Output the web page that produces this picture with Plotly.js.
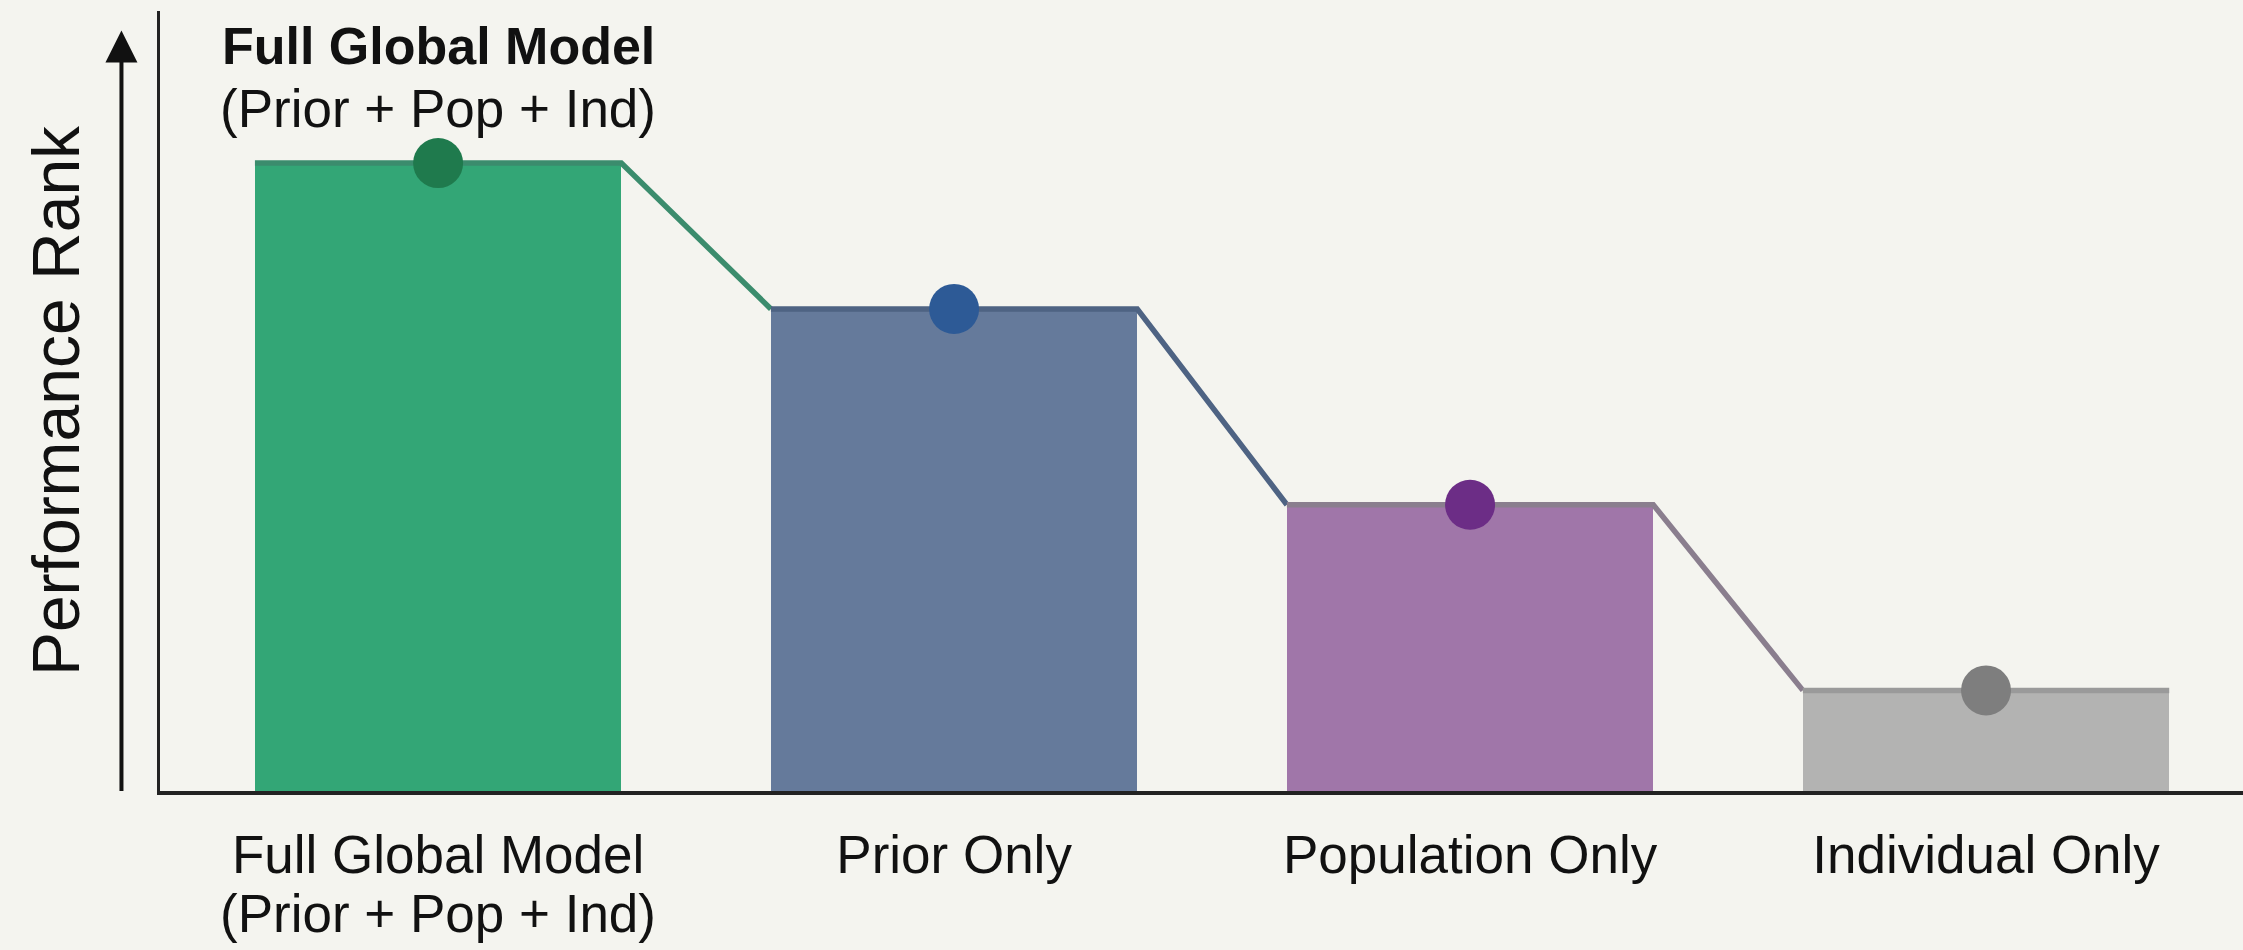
<!DOCTYPE html>
<html>
<head>
<meta charset="utf-8">
<script src="https://cdn.plot.ly/plotly-3.0.1.min.js"></script>
<style>
html,body{margin:0;padding:0;background:#f4f4ef;}
#chart{width:2243px;height:950px;}
</style>
</head>
<body>
<div id="chart"></div>
<script>
// ---- data ----
const categories = ["Full Global Model", "Prior Only", "Population Only", "Individual Only"];
const subLabels = ["(Prior + Pop + Ind)", "", "", ""];
const performance = [80.5, 61.8, 36.7, 12.9];
const barColors = ["#33a676", "#657a9b", "#a076a9", "#b3b3b2"];
const dotColors = ["#1f7a4d", "#2d5a96", "#6c2d86", "#7e7e7e"];
const edgeColors = ["#3b8c6d", "#4e6383", "#8a7e8e", "#9a9a9a"];
const highlightTitle = "Full Global Model";
const highlightSub = "(Prior + Pop + Ind)";
const yTitle = "Performance Rank";

const positions = categories.map((c, i) => i);
const W = 0.71;
const FONT = "'Liberation Sans', Arial, sans-serif";
const LABEL_SIZE = 53;

const traces = [];
traces.push({
  type: "bar", x: positions, y: performance, width: W,
  marker: {color: barColors, line: {width: 0}},
  hoverinfo: "skip", showlegend: false
});
// connectors: top edge of each bar plus slope to next bar
positions.forEach((p, i) => {
  const xs = [p - W / 2, p + W / 2];
  const ys = [performance[i], performance[i]];
  if (i < positions.length - 1) {
    xs.push(positions[i + 1] - W / 2);
    ys.push(performance[i + 1]);
  }
  traces.push({
    type: "scatter", mode: "lines", x: xs, y: ys,
    line: {color: edgeColors[i], width: 5.5},
    hoverinfo: "skip", showlegend: false
  });
});
traces.push({
  type: "scatter", mode: "markers", x: positions, y: performance,
  marker: {size: 50, color: dotColors},
  hoverinfo: "skip", showlegend: false
});

const annotations = [
  {
    x: 0, y: 91.5, xref: "x", yref: "y", showarrow: false,
    text: "<b>" + highlightTitle + "</b>", font: {family: FONT, size: 52, color: "#111"},
    xanchor: "center", yanchor: "bottom", yshift: 0
  },
  {
    x: 0, y: 91.5, xref: "x", yref: "y", showarrow: false,
    text: highlightSub, font: {family: FONT, size: LABEL_SIZE, color: "#111"},
    xanchor: "center", yanchor: "top", yshift: 0
  },
  // arrow beside the y axis
  {
    x: -0.0185, y: 0.975, xref: "paper", yref: "paper",
    ax: -0.0185, ay: -0.002, axref: "paper", ayref: "paper",
    showarrow: true, arrowhead: 2, arrowsize: 1.6, arrowwidth: 4, arrowcolor: "#111",
    text: ""
  }
];
subLabels.forEach((s, i) => {
  if (s) annotations.push({
    x: positions[i], y: 0, xref: "x", yref: "y", showarrow: false,
    text: s, font: {family: FONT, size: LABEL_SIZE, color: "#111"},
    xanchor: "center", yanchor: "top", yshift: -91
  });
});

const layout = {
  width: 2243, height: 950,
  paper_bgcolor: "#f4f4ef", plot_bgcolor: "#f4f4ef",
  margin: {l: 160, r: 0, t: 11, b: 159},
  bargap: 0,
  xaxis: {
    range: [-0.539, 3.498], tickmode: "array", tickvals: positions, ticktext: categories,
    showgrid: false, zeroline: false, showline: true, linecolor: "#222", linewidth: 4,
    ticks: "", ticklabelstandoff: 14,
    tickfont: {family: FONT, size: LABEL_SIZE, color: "#111"}, fixedrange: true
  },
  yaxis: {
    range: [0, 100], showgrid: false, zeroline: false, showline: true, linecolor: "#222", linewidth: 3,
    showticklabels: false, ticks: "",
    title: {text: yTitle, font: {family: FONT, size: 66, color: "#111"}, standoff: 56},
    fixedrange: true
  },
  annotations: annotations,
  showlegend: false
};

Plotly.newPlot("chart", traces, layout, {displayModeBar: false, staticPlot: true});
</script>
</body>
</html>
